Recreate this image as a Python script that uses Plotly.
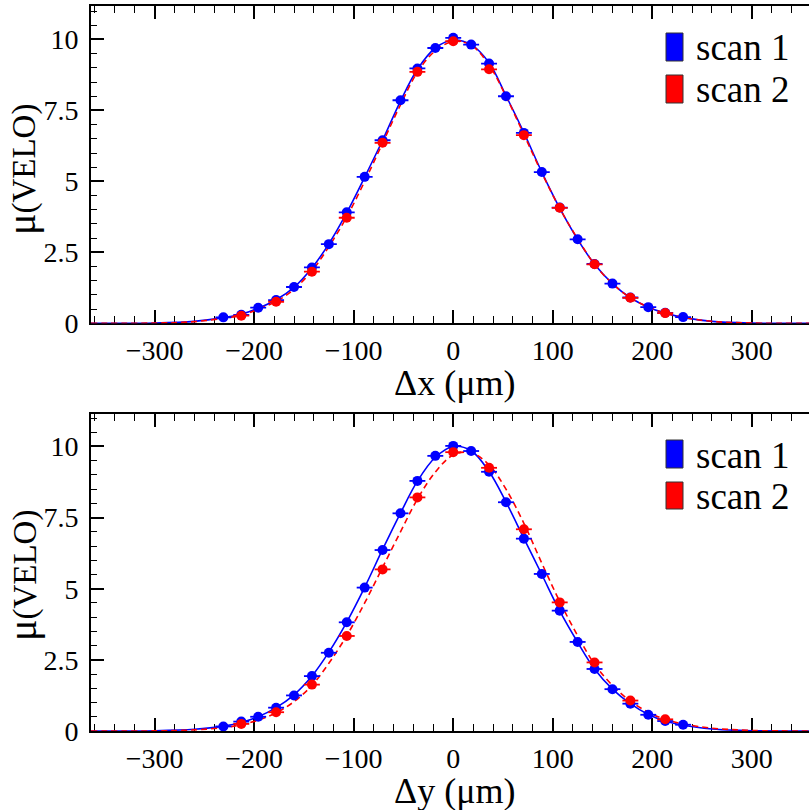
import plotly.graph_objects as go
from plotly.subplots import make_subplots

# ---- data ----
x_scan1 = [-231, -213, -196, -178, -160, -142, -125, -107, -89, -71, -53, -36, -18, 0,
           18, 36, 53, 71, 89, 107, 125, 142, 160, 178, 196, 213, 231]
x_scan2 = [-213, -178, -142, -107, -71, -36, 0, 36, 71, 107, 142, 178, 213]

mu_x_scan1 = [0.21, 0.30, 0.55, 0.82, 1.28, 1.97, 2.79, 3.91, 5.16, 6.45, 7.86, 8.98, 9.70, 10.06,
              9.82, 9.15, 8.00, 6.71, 5.33, 4.08, 2.96, 2.09, 1.40, 0.91, 0.57, 0.37, 0.22]
mu_x_scan2 = [0.27, 0.76, 1.82, 3.72, 6.36, 8.86, 9.94, 8.95, 6.63, 4.07, 2.08, 0.90, 0.36]

mu_y_scan1 = [0.16, 0.33, 0.50, 0.82, 1.25, 1.93, 2.75, 3.82, 5.04, 6.36, 7.65, 8.79, 9.67, 10.02,
              9.84, 9.11, 8.04, 6.76, 5.52, 4.23, 3.13, 2.18, 1.47, 0.96, 0.57, 0.35, 0.22]
mu_y_scan2 = [0.25, 0.66, 1.63, 3.34, 5.68, 8.21, 9.80, 9.25, 7.09, 4.52, 2.41, 1.07, 0.41]

x_err = 8  # horizontal error (um)

# fit curves
x_fit = [-364, -300, -260, -231, -213, -196, -178, -160, -142, -125, -107, -89, -71, -53, -36, -18, 0,
         18, 36, 53, 71, 89, 107, 125, 142, 160, 178, 196, 213, 231, 260, 300, 364]
fit_x_scan1 = [0, 0.01, 0.07, 0.2, 0.32, 0.53, 0.83, 1.27, 1.95, 2.8, 3.9, 5.15, 6.45, 7.83, 8.95, 9.7, 9.98,
               9.82, 9.18, 8.02, 6.72, 5.33, 4.06, 2.96, 2.08, 1.40, 0.90, 0.57, 0.36, 0.21, 0.07, 0.01, 0]
fit_x_scan2 = [0, 0.01, 0.06, 0.18, 0.28, 0.5, 0.77, 1.2, 1.85, 2.7, 3.75, 5.0, 6.35, 7.7, 8.85, 9.6, 9.93,
               9.8, 9.1, 8.0, 6.65, 5.3, 4.05, 2.98, 2.08, 1.40, 0.9, 0.57, 0.36, 0.21, 0.07, 0.01, 0]
fit_y_scan1 = [0, 0.01, 0.06, 0.17, 0.3, 0.5, 0.82, 1.27, 1.93, 2.77, 3.83, 5.05, 6.38, 7.66, 8.78, 9.62, 10.0,
               9.85, 9.12, 8.05, 6.77, 5.5, 4.22, 3.12, 2.18, 1.47, 0.96, 0.58, 0.35, 0.2, 0.07, 0.01, 0]
fit_y_scan2 = [0, 0.005, 0.04, 0.12, 0.22, 0.38, 0.64, 1.03, 1.6, 2.38, 3.35, 4.5, 5.75, 7.0, 8.15, 9.1, 9.7,
               9.78, 9.35, 8.5, 7.3, 5.9, 4.55, 3.35, 2.35, 1.6, 1.05, 0.66, 0.41, 0.25, 0.1, 0.02, 0]

series_names = ["scan 1", "scan 2"]
x_titles = ["Δx (μm)", "Δy (μm)"]
x_ticks = [-300, -200, -100, 0, 100, 200, 300]
y_ticks = [0, 2.5, 5, 7.5, 10]

BLUE = "#0000ff"
RED = "#ff0000"
FONT = "Liberation Serif"

fig = make_subplots(rows=2, cols=1, vertical_spacing=0.125)

panels = [
    (mu_x_scan1, mu_x_scan2, fit_x_scan1, fit_x_scan2),
    (mu_y_scan1, mu_y_scan2, fit_y_scan1, fit_y_scan2),
]
for i, (d1, d2, f1, f2) in enumerate(panels, start=1):
    fig.add_trace(go.Scatter(x=x_fit, y=f1, mode="lines", line=dict(color=BLUE, width=1.6, shape="spline"),
                             showlegend=False, hoverinfo="skip"), row=i, col=1)
    fig.add_trace(go.Scatter(x=x_fit, y=f2, mode="lines",
                             line=dict(color=RED, width=1.6, dash="6px,4px", shape="spline"),
                             showlegend=False, hoverinfo="skip"), row=i, col=1)
    fig.add_trace(go.Scatter(x=x_scan1, y=d1, mode="markers", name=series_names[0],
                             marker=dict(color=BLUE, size=10),
                             error_x=dict(type="constant", value=x_err, width=0, thickness=1.8, color=BLUE),
                             showlegend=False), row=i, col=1)
    fig.add_trace(go.Scatter(x=x_scan2, y=d2, mode="markers", name=series_names[1],
                             marker=dict(color=RED, size=10),
                             error_x=dict(type="constant", value=x_err, width=0, thickness=1.8, color=RED),
                             showlegend=False), row=i, col=1)

axis_common = dict(showline=True, linecolor="black", linewidth=2, ticks="inside", tickcolor="black",
                   tickwidth=1.5, showgrid=False, zeroline=False, layer="below traces", automargin=False)

y_ranges = [[0, 11.18], [0, 11.14]]
domains = [[0.5623, 1.0], [0.0, 0.4372]]
for i in (1, 2):
    fig.update_xaxes(row=i, col=1, range=[-364, 357.5], tickvals=x_ticks, ticklen=13,
                     mirror="ticks",
                     minor=dict(dtick=20, tick0=0, ticks="inside", ticklen=7, tickwidth=1.2, tickcolor="black"),
                     tickfont=dict(family=FONT, size=28, color="black"), ticklabelstandoff=1,
                     **axis_common)
    fig.update_yaxes(row=i, col=1, range=y_ranges[i - 1], tickvals=y_ticks, ticklen=13,
                     domain=domains[i - 1],
                     minor=dict(dtick=0.5, tick0=0, ticks="inside", ticklen=6, tickwidth=1.2, tickcolor="black"),
                     tickfont=dict(family=FONT, size=28, color="black"), ticklabelstandoff=5,
                     **axis_common)

# axis titles and legends (pixel helpers relative to plot area)
W_PLOT = 718.0
H_PLOT = 725.0
def px_x(px):
    return (px - 91) / W_PLOT
def px_y(py):
    return (731 - py) / H_PLOT

annotations = []
shapes = []
ytitle_centers = [170, 576]
xtitle_centers = [383, 791]
legend_rows = [[(33, 61), (75, 103)], [(440, 468), (482, 509)]]
colors = [BLUE, RED]
for p in range(2):
    annotations.append(dict(
        text="<span style='font-size:40px'>μ</span>(VELO)", xref="paper", yref="paper",
        x=px_x(22), y=px_y(ytitle_centers[p]), textangle=-90, showarrow=False,
        xanchor="center", yanchor="middle", font=dict(family=FONT, size=33, color="black")))
    annotations.append(dict(
        text=x_titles[p], xref="paper", yref="paper",
        x=px_x(454), y=px_y(xtitle_centers[p]), showarrow=False,
        xanchor="center", yanchor="middle", font=dict(family=FONT, size=36, color="black")))
    for k in range(2):
        top, bot = legend_rows[p][k]
        shapes.append(dict(type="rect", xref="paper", yref="paper",
                           x0=px_x(666), x1=px_x(683), y0=px_y(bot), y1=px_y(top),
                           fillcolor=colors[k], line=dict(color="#333333", width=1)))
        annotations.append(dict(text=series_names[k], xref="paper", yref="paper",
                                x=px_x(694), y=px_y((top + bot) / 2 + 1), showarrow=False,
                                xanchor="left", yanchor="middle",
                                font=dict(family=FONT, size=37, color="black")))

fig.update_layout(
    width=809, height=810,
    margin=dict(l=91, r=0, t=6, b=79),
    paper_bgcolor="white", plot_bgcolor="white",
    showlegend=False,
    annotations=annotations, shapes=shapes,
    font=dict(family=FONT, color="black"),
)

fig.write_html("out.html", config={"displayModeBar": False},
               post_script="document.body.style.margin='0';document.body.style.overflow='hidden';")
